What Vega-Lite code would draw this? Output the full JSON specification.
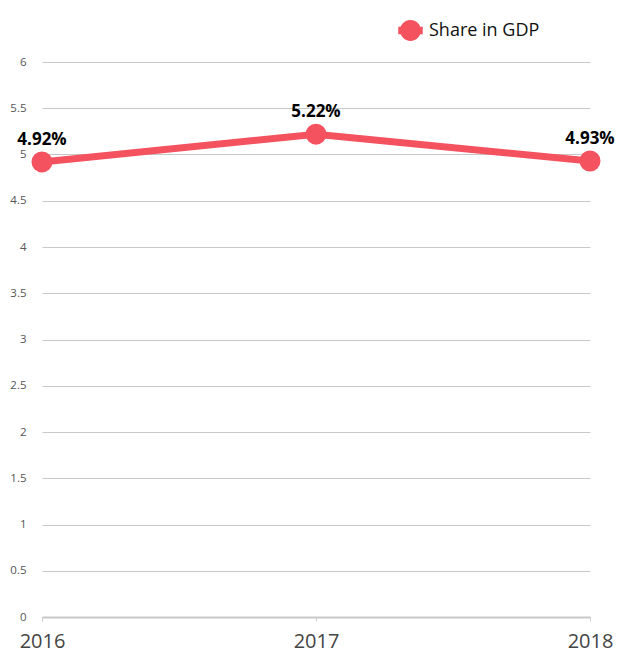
{
  "$schema": "https://vega.github.io/schema/vega-lite/v6.json",
  "width": 548,
  "height": 555,
  "autosize": "none",
  "padding": {"left": 42, "top": 62, "right": 27, "bottom": 38},
  "background": "white",
  "config": {
    "view": {"stroke": null},
    "font": "Open Sans"
  },
  "data": {
    "values": [
      {"year": "2016", "share": 4.92, "label": "4.92%", "series": "Share in GDP"},
      {"year": "2017", "share": 5.22, "label": "5.22%", "series": "Share in GDP"},
      {"year": "2018", "share": 4.93, "label": "4.93%", "series": "Share in GDP"}
    ]
  },
  "encoding": {
    "x": {
      "field": "year",
      "type": "ordinal",
      "scale": {"type": "point", "padding": 0},
      "axis": {
        "title": null,
        "labelAngle": 0,
        "labelFontSize": 20,
        "labelColor": "#444",
        "labelPadding": 10,
        "tickColor": "#ccc",
        "tickSize": 4,
        "domainColor": "#c8c8c8",
        "domainWidth": 2,
        "grid": false
      }
    },
    "y": {
      "field": "share",
      "type": "quantitative",
      "scale": {"domain": [0, 6], "nice": false},
      "axis": {
        "title": null,
        "values": [0, 0.5, 1, 1.5, 2, 2.5, 3, 3.5, 4, 4.5, 5, 5.5, 6],
        "labelExpr": "datum.value",
        "labelFontSize": 11.5,
        "labelColor": "#555",
        "labelPadding": 16,
        "ticks": false,
        "domain": false,
        "gridColor": "#c8c8c8",
        "gridWidth": 1
      }
    }
  },
  "layer": [
    {
      "mark": {"type": "line", "strokeWidth": 7, "color": "#f5525f"},
      "encoding": {
        "color": {
          "field": "series",
          "type": "nominal",
          "scale": {"range": ["#f5525f"]},
          "legend": {
            "title": null,
            "orient": "none",
            "legendX": 356,
            "legendY": -44,
            "padding": 0,
            "symbolType": "M-1,-0.3H1V0.3H-1Z M0.85,0 A0.85,0.85 0 1,1 -0.85,0 A0.85,0.85 0 1,1 0.85,0Z",
            "symbolSize": 600,
            "symbolFillColor": "#f5525f",
            "symbolStrokeWidth": 0,
            "labelFontSize": 18,
            "labelColor": "#111",
            "labelOffset": 6
          }
        }
      }
    },
    {
      "mark": {"type": "point", "filled": true, "size": 440, "opacity": 1, "color": "#f5525f"}
    },
    {
      "mark": {"type": "text", "dy": -22, "fontSize": 17, "fontWeight": "bold", "color": "#000"},
      "encoding": {"text": {"field": "label"}}
    }
  ]
}
